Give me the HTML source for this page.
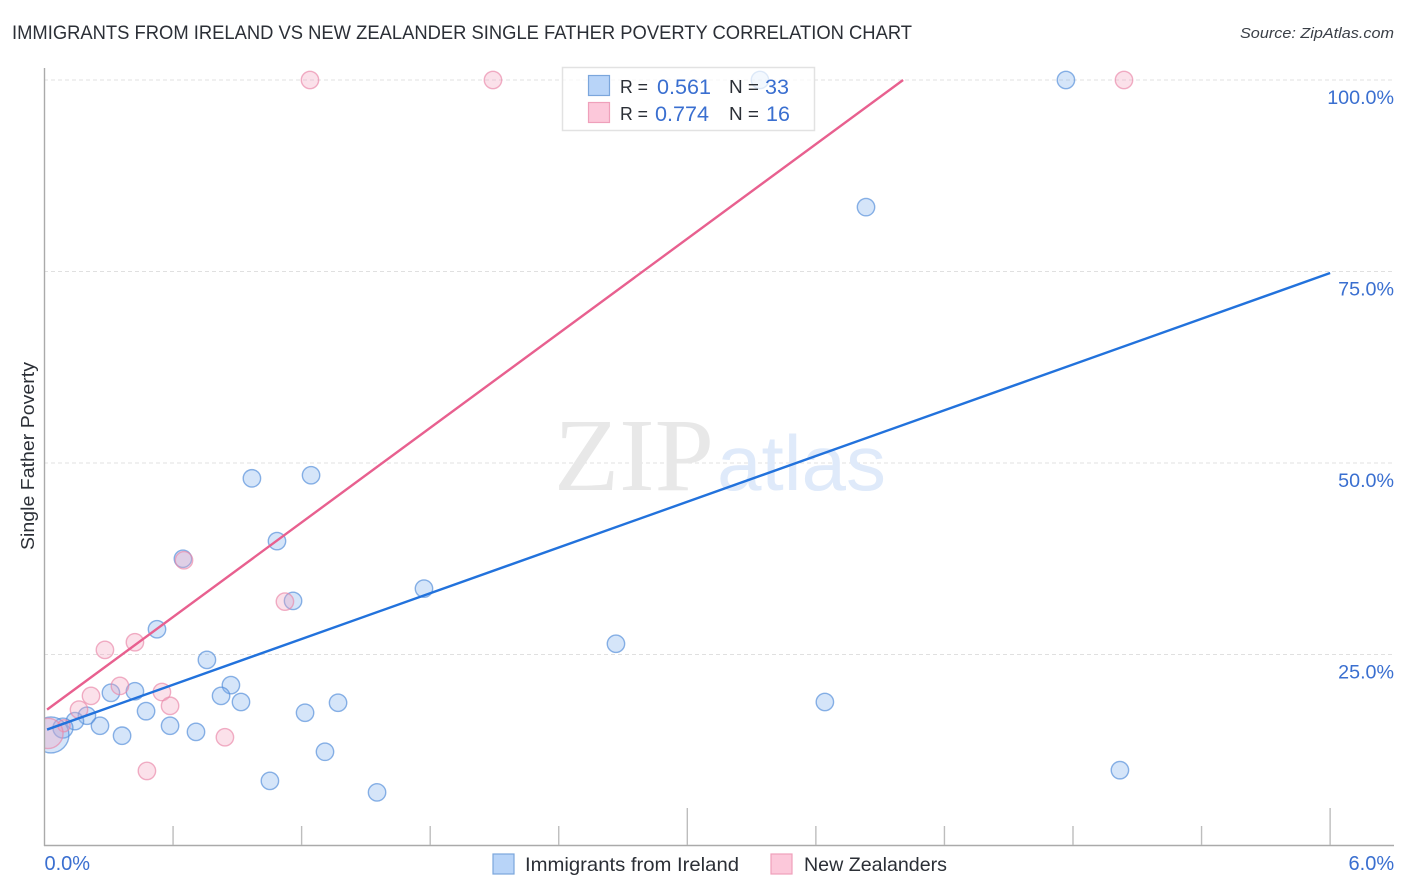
<!DOCTYPE html>
<html>
<head>
<meta charset="utf-8">
<title>Immigrants from Ireland vs New Zealander Single Father Poverty Correlation Chart</title>
<style>
html,body{margin:0;padding:0;background:#fff;}
svg{display:block;font-family:"Liberation Sans",sans-serif;}
</style>
</head>
<body>
<svg id="chart" xmlns="http://www.w3.org/2000/svg" width="1406" height="892" viewBox="0 0 1406 892">
  <text x="12" y="39" font-size="19" fill="#2b2f36" textLength="900" lengthAdjust="spacingAndGlyphs">IMMIGRANTS FROM IRELAND VS NEW ZEALANDER SINGLE FATHER POVERTY CORRELATION CHART</text>
  <text x="1394" y="38" font-size="15" font-style="italic" fill="#3a3f47" text-anchor="end" textLength="154" lengthAdjust="spacingAndGlyphs">Source: ZipAtlas.com</text>

  <g id="grid"></g>

  <g>
    <text x="554" y="490" font-family="'Liberation Serif',serif" font-size="104" fill="#e8e8e8" textLength="160" lengthAdjust="spacingAndGlyphs">ZIP</text>
    <text x="717" y="490" font-family="'Liberation Sans',sans-serif" font-size="78" fill="#dfeafa" textLength="169" lengthAdjust="spacingAndGlyphs">atlas</text>
  </g>

  <g id="points-blue"></g>
  <g id="points-pink"></g>
  <rect x="0" y="60" width="45" height="786" fill="#ffffff"/>
  <g id="trends"></g>
  <g id="axes"></g>

  <text transform="translate(34,456) rotate(-90)" font-size="18.5" fill="#2b2f36" text-anchor="middle" textLength="188" lengthAdjust="spacingAndGlyphs">Single Father Poverty</text>

  <g>
    <rect x="562.5" y="67.5" width="252" height="63" fill="#fff" fill-opacity="0.72" stroke="#e2e2e2" stroke-width="1.5"/>
    <rect x="588.5" y="75.5" width="21" height="20" fill="#b8d4f8" stroke="#7ba6dc" stroke-width="1.2"/>
    <rect x="588.5" y="102.5" width="21" height="20" fill="#fcc8da" stroke="#efa0bb" stroke-width="1.2"/>
    <g font-size="18.5" fill="#2b2f36">
      <text x="620" y="93" textLength="28" lengthAdjust="spacingAndGlyphs">R =</text>
      <text x="729" y="93" textLength="30" lengthAdjust="spacingAndGlyphs">N =</text>
      <text x="620" y="120" textLength="28" lengthAdjust="spacingAndGlyphs">R =</text>
      <text x="729" y="120" textLength="30" lengthAdjust="spacingAndGlyphs">N =</text>
    </g>
    <g font-size="21.5" fill="#3a6fd0">
      <text x="657" y="94" textLength="54" lengthAdjust="spacingAndGlyphs">0.561</text>
      <text x="765" y="94" textLength="24" lengthAdjust="spacingAndGlyphs">33</text>
      <text x="655" y="121" textLength="54" lengthAdjust="spacingAndGlyphs">0.774</text>
      <text x="766" y="121">16</text>
    </g>
  </g>

  <g>
    <rect x="493" y="854" width="21" height="20" fill="#b8d4f8" stroke="#7ba6dc" stroke-width="1.2"/>
    <text x="525" y="871" font-size="19.5" fill="#2b2f36" textLength="214" lengthAdjust="spacingAndGlyphs">Immigrants from Ireland</text>
    <rect x="771" y="854" width="21" height="20" fill="#fcc8da" stroke="#efa0bb" stroke-width="1.2"/>
    <text x="804" y="871" font-size="19.5" fill="#2b2f36" textLength="143" lengthAdjust="spacingAndGlyphs">New Zealanders</text>
  </g>
</svg>
<script>
var blueX = [3.339,4.767,3.834,0.968,1.244,1.085,0.646,1.160,1.771,2.667,0.525,0.758,0.870,0.824,0.917,0.422,0.310,0.474,0.586,0.707,1.216,1.370,1.309,1.052,1.552,3.642,5.019,0.362,0.259,0.198,0.142,0.086,0.030];
var blueY = [100,100,83.4,48.0,48.4,39.8,37.5,32.0,33.6,26.4,28.3,24.3,21.0,19.6,18.8,20.2,20.0,17.6,15.7,14.9,17.4,18.7,12.3,8.5,7.0,18.8,9.9,14.4,15.7,17.0,16.3,15.4,14.5];
var blueWeight = [1,1,1,1,1,1,1,1,1,1,1,1,1,1,1,1,1,1,1,1,1,1,1,1,1,1,1,1,1,1,1,1.15,2.07];
var pinkX = [1.239,2.093,5.038,0.651,1.122,0.422,0.282,0.352,0.217,0.548,0.586,0.842,0.478,0.161,0.091,0.016];
var pinkY = [100,100,100,37.3,31.9,26.6,25.6,20.9,19.6,20.1,18.3,14.2,9.8,17.8,15.7,14.7];
var pinkWeight = [1,1,1,1,1,1,1,1,1,1,1,1,1,1,0.7,1.74];
var blueTrendX = [0.012,6.0];
var blueTrendY = [15.2,74.8];
var pinkTrendX = [0.012,4.007];
var pinkTrendY = [17.8,100];
var yTicks = [25,50,75,100];
var yTickLabels = ["25.0%","50.0%","75.0%","100.0%"];
var xTicks = [0.6,1.2,1.8,2.4,3.0,3.6,4.2,4.8,5.4,6.0];
var xMajorTicks = [3.0,6.0];
var xEndValues = [0,6];
var xEndLabels = ["0.0%","6.0%"];

function xScale(v){ return 44.5 + v * 214.27; }
function yScale(v){ return 846 - v * 7.66; }
var NS = "http://www.w3.org/2000/svg";
function make(tag, attrs, parent){
  var el = document.createElementNS(NS, tag);
  for (var k in attrs) { el.setAttribute(k, attrs[k]); }
  parent.appendChild(el);
  return el;
}

var grid = document.getElementById("grid");
yTicks.forEach(function(t, i){
  var ln = make("line", {x1:44, x2:1394, y1:yScale(t), y2:yScale(t), stroke:"#e0e0e0", "stroke-width":1, "stroke-dasharray":"4 3"}, grid);
  
  
  var tx = make("text", {x:1394, y:yScale(t) + 24, "font-size":19.7, fill:"#3a6fd0", "text-anchor":"end"}, grid);
  tx.textContent = yTickLabels[i];
  
  
});

function drawPoints(groupId, xs, ys, ws, fill, stroke){
  var g = document.getElementById(groupId);
  xs.forEach(function(x, i){
    var c = make("circle", {cx:xScale(x), cy:yScale(ys[i]), r:8.7 * ws[i], fill:fill, "fill-opacity":0.33, stroke:stroke, "stroke-opacity":0.65, "stroke-width":1.4}, g);
    
    
  });
}
drawPoints("points-blue", blueX, blueY, blueWeight, "#7fb0ec", "#4f8bd8");
drawPoints("points-pink", pinkX, pinkY, pinkWeight, "#f4a3bf", "#ea86a8");

var trends = document.getElementById("trends");
var pinkLine = make("line", {x1:xScale(pinkTrendX[0]), y1:yScale(pinkTrendY[0]), x2:xScale(pinkTrendX[1]), y2:yScale(pinkTrendY[1]), stroke:"#e8608f", "stroke-width":2.4}, trends);


var blueLine = make("line", {x1:xScale(blueTrendX[0]), y1:yScale(blueTrendY[0]), x2:xScale(blueTrendX[1]), y2:yScale(blueTrendY[1]), stroke:"#2272dc", "stroke-width":2.4}, trends);



var axes = document.getElementById("axes");
var yAxis = make("line", {x1:44.5, x2:44.5, y1:68, y2:846, stroke:"#aaaaaa", "stroke-width":1.4}, axes);


var xAxis = make("line", {x1:44, x2:1394, y1:845.5, y2:845.5, stroke:"#aaaaaa", "stroke-width":1.4}, axes);


xTicks.forEach(function(t){
  var isMajor = xMajorTicks.indexOf(t) !== -1;
  var tick = make("line", {x1:xScale(t), x2:xScale(t), y1:isMajor ? 808 : 826, y2:845, stroke:"#bdbdbd", "stroke-width":1.4}, axes);
  
  
});
xEndValues.forEach(function(v, i){
  var lbl = make("text", {x: i === 0 ? xScale(v) : xScale(v) + 64, y:870, "font-size":20, fill:"#3a6fd0", "text-anchor": i === 0 ? "start" : "end"}, axes);
  lbl.textContent = xEndLabels[i];
  
  
});
</script>
</body>
</html>
